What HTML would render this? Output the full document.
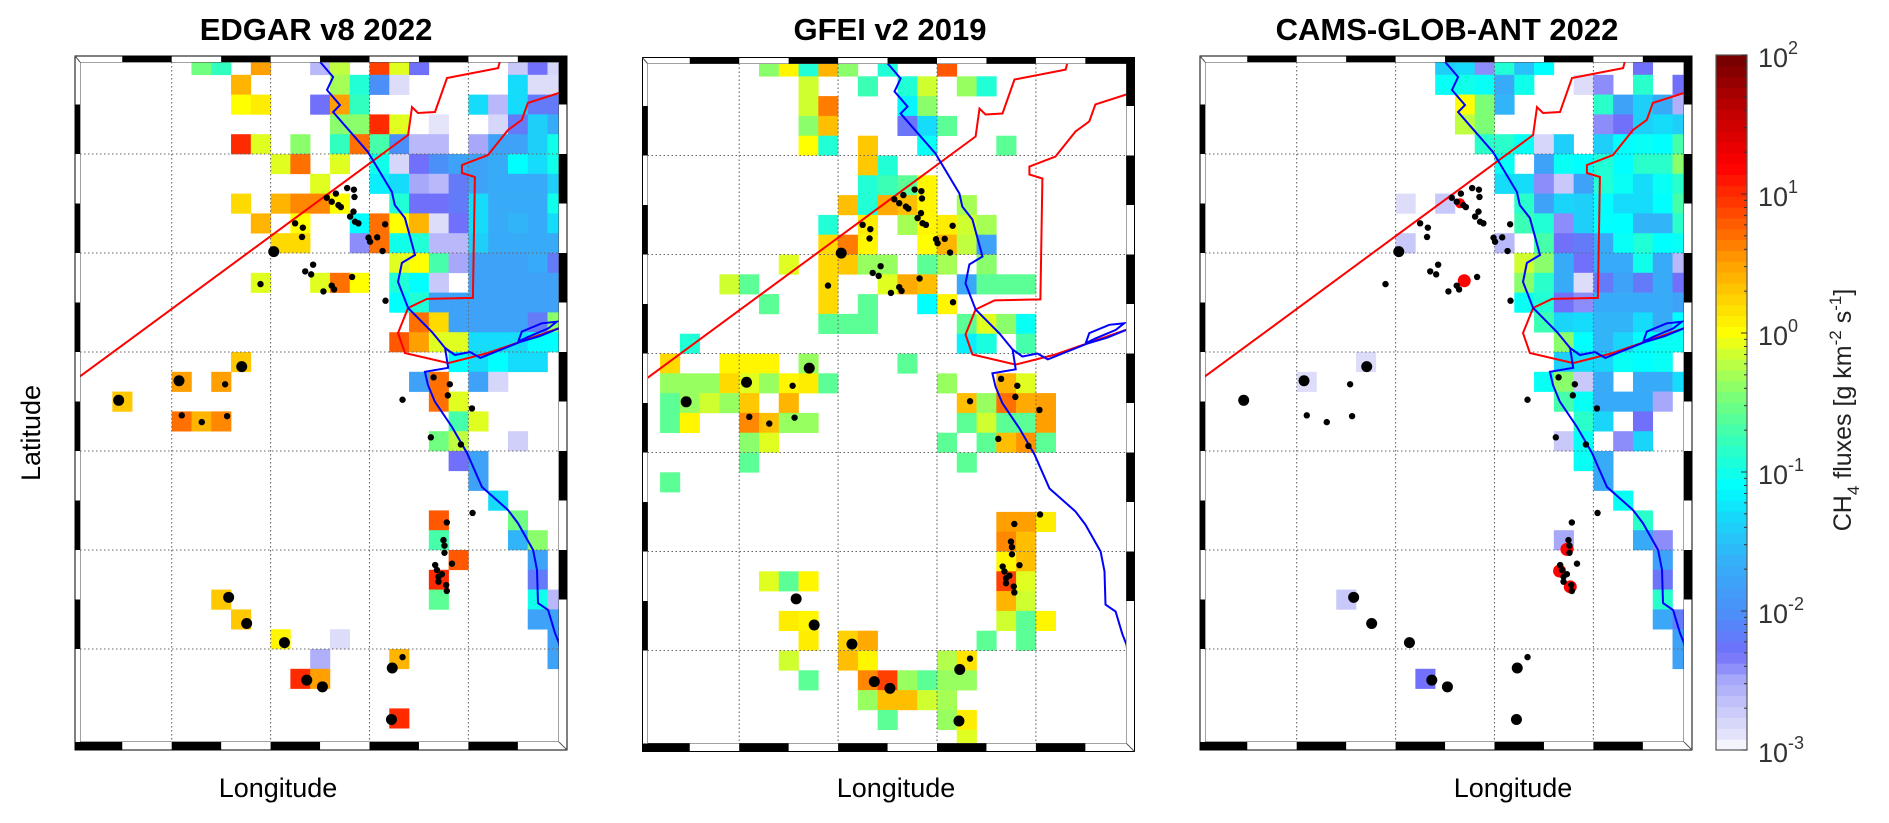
<!DOCTYPE html>
<html><head><meta charset="utf-8">
<style>
html,body{margin:0;padding:0;background:#fff;}
svg{display:block;font-family:"Liberation Sans",Arial,sans-serif;}
</style></head>
<body>
<svg id="chart" xmlns="http://www.w3.org/2000/svg" width="1889" height="823" viewBox="0 0 1889 823">
<rect x="0" y="0" width="1889" height="823" fill="#fff"/>
<text x="316" y="40" font-size="31" font-weight="bold" text-anchor="middle">EDGAR v8 2022</text>
<text x="890" y="40" font-size="31" font-weight="bold" text-anchor="middle">GFEI v2 2019</text>
<text x="1447" y="40" font-size="31" font-weight="bold" text-anchor="middle">CAMS-GLOB-ANT 2022</text>
<text x="278" y="797" font-size="27" text-anchor="middle">Longitude</text>
<text x="896" y="797" font-size="27" text-anchor="middle">Longitude</text>
<text x="1513" y="797" font-size="27" text-anchor="middle">Longitude</text>
<text transform="translate(40,433) rotate(-90)" font-size="27" text-anchor="middle">Latitude</text>
<text transform="translate(1851,410) rotate(-90)" font-size="25" text-anchor="middle" fill="#222">CH<tspan font-size="17" dy="8">4</tspan><tspan dy="-8"> fluxes [g km</tspan><tspan font-size="17" dy="-10">-2</tspan><tspan dy="10"> s</tspan><tspan font-size="17" dy="-10">-1</tspan><tspan dy="10">]</tspan></text>
</svg>
<script>
// ---- data (grid units: column, row, log10 flux) ----
const edgarCells = [
[1,-5,-.5],[2,-5,-.8],[4,-5,.5],[7,-5,-2.6],[8,-5,-.2],[10,-5,.9],[11,-5,-.1],[12,-5,-2.3],[17,-5,-2.7],[18,-5,-2.3],[19,-5,-2.8],
[3,-4,.4],[8,-4,-.3],[9,-4,-.9],[10,-4,-2],[11,-4,-2.85],[17,-4,-1.3],[18,-4,-2.85],[19,-4,-2.85],
[3,-3,0],[4,-3,.1],[7,-3,-2.3],[8,-3,.5],[9,-3,-.8],[15,-3,-1.3],[16,-3,-2.6],[17,-3,-1.3],[18,-3,-2.2],[19,-3,-2.2],
[8,-2,-.4],[9,-2,-.4],[10,-2,1],[11,-2,-.1],[13,-2,-2.9],[16,-2,-2.8],[17,-2,-2.2],[18,-2,-1.4],[19,-2,-1.7],
[3,-1,1],[4,-1,-.1],[6,-1,-.4],[8,-1,-.8],[9,-1,.7],[10,-1,-.7],[11,-1,-2],[12,-1,-2.6],[13,-1,-2.6],[15,-1,-2.5],[16,-1,-1.8],[17,-1,-1.8],[18,-1,-1.4],[19,-1,-1],
[5,0,-.1],[6,0,.7],[8,0,-.1],[10,0,-1],[11,0,-2.8],[12,0,-2.3],[13,0,-2],[14,0,-1.8],[15,0,-1.8],[16,0,-1.7],[17,0,-1.1],[18,0,-1.3],[19,0,-1],
[7,1,-.1],[10,1,-1.2],[11,1,-1.3],[12,1,-2.5],[13,1,-2.6],[14,1,-2.2],[15,1,-1.8],[16,1,-1.7],[17,1,-1.7],[18,1,-1.7],[19,1,-1.4],
[3,2,.2],[5,2,.4],[6,2,.6],[7,2,.6],[8,2,0],[11,2,-.9],[12,2,-2.3],[13,2,-2.3],[14,2,-2.2],[15,2,-1.3],[16,2,-1.7],[17,2,-1.7],[18,2,-1.7],[19,2,-1],
[4,3,.4],[6,3,0],[9,3,-1.1],[10,3,.7],[11,3,0],[12,3,.4],[13,3,-2.85],[14,3,-2.3],[15,3,-1.3],[16,3,-1.7],[17,3,-1.6],[18,3,-1.7],[19,3,-1.3],
[5,4,.2],[6,4,.2],[9,4,-2.4],[10,4,.7],[11,4,-1],[12,4,-.9],[13,4,-2.6],[14,4,-2.6],[15,4,-1.4],[16,4,-1.7],[17,4,-1.7],[18,4,-1.7],[19,4,-1.7],
[11,5,-.1],[12,5,0],[13,5,-.7],[14,5,-2.5],[15,5,-1.8],[16,5,-1.8],[17,5,-1.8],[18,5,-1.7],[19,5,-2.2],
[4,6,-.1],[7,6,-.1],[8,6,.7],[9,6,0],[11,6,-.9],[12,6,-1.1],[13,6,-2.7],[15,6,-1.8],[16,6,-1.8],[17,6,-1.8],[18,6,-1.8],[19,6,-1.8],
[11,7,-1.1],[12,7,-.9],[13,7,-1.8],[14,7,-1.8],[15,7,-1.8],[16,7,-1.8],[17,7,-1.8],[18,7,-1.8],[19,7,-1.8],
[12,8,.7],[13,8,.2],[14,8,-1.8],[15,8,-1.8],[16,8,-1.8],[17,8,-1.8],[18,8,-2.2],[19,8,-.4],
[11,9,.8],[12,9,.5],[13,9,-.1],[14,9,-.1],[15,9,-1.3],[16,9,-1.3],[17,9,-1.3],[18,9,-1.1],[19,9,-1.1],
[3,10,.3],[14,10,-1.1],[15,10,-1.3],[16,10,-1.1],[17,10,-1.3],[18,10,-1.3],
[0,11,.5],[2,11,.5],[12,11,-1.8],[13,11,.7],[15,11,-1.8],[16,11,-2.8],
[-3,12,.3],[13,12,.7],[14,12,-.1],
[0,13,.7],[1,13,.4],[2,13,.6],[14,13,-.7],[15,13,-.1],
[13,14,-.5],[14,14,-.2],[17,14,-2.75],
[14,15,-2.3],[15,15,-1.8],[15,16,-1.8],[16,17,-1.3],
[13,18,.8],[17,18,-.5],[13,19,-.7],[17,19,-1.6],[18,19,-.4],
[14,20,.8],[18,20,-1.8],[13,21,1],[18,21,-2.2],
[2,22,.3],[13,22,-.6],[18,22,-1],[19,22,-2.6],
[3,23,.3],[18,23,-1.8],[19,23,-1.8],
[5,24,.05],[8,24,-2.85],[19,24,-1.8],
[7,25,-2.55],[11,25,.4],[19,25,-1.8],
[6,26,1],[7,26,.5],[11,28,1]
];
const gfeiCells = [
[1,-5,-.4],[2,-5,.05],[3,-5,-.9],[4,-5,.4],[5,-5,-.4],[7,-5,-.9],[10,-5,.8],
[3,-4,-.15],[6,-4,-.75],[8,-4,-.9],[9,-4,-.15],[11,-4,-.35],[12,-4,-.9],
[3,-3,-.15],[4,-3,.65],[8,-3,-1.15],[9,-3,-.4],
[3,-2,-.4],[4,-2,.35],[8,-2,-2.25],[9,-2,-1.3],[10,-2,-.6],
[3,-1,0],[4,-1,-.9],[6,-1,.3],[9,-1,-1.05],[13,-1,-.6],
[6,0,.3],[7,0,-.9],
[6,1,-.9],[7,1,-.75],[8,1,-.6],[9,1,.05],
[5,2,.35],[6,2,-.9],[7,2,.45],[8,2,.35],[9,2,.05],[11,2,-.3],
[4,3,-.9],[6,3,.1],[8,3,-.3],[9,3,.05],[10,3,.1],[11,3,-.15],[12,3,-.3],
[4,4,.2],[5,4,.65],[6,4,.05],[9,4,0],[10,4,.4],[11,4,-.2],[12,4,-1.8],
[2,5,-.1],[4,5,.2],[5,5,.3],[6,5,-.35],[7,5,-.35],[9,5,-.6],[10,5,-.3],[12,5,-.4],
[-1,6,-.15],[0,6,-.6],[4,6,.2],[7,6,-.1],[8,6,.45],[9,6,.35],[11,6,-1.75],[12,6,-.6],[13,6,-.6],[14,6,-.6],
[1,7,-.6],[4,7,.2],[6,7,-.6],[9,7,-1.1],[10,7,.05],
[4,8,-.6],[5,8,-.6],[6,8,-.6],[11,8,-.6],[12,8,-.1],[13,8,-.4],[14,8,-1.05],
[-3,9,-.9],[11,9,-1.2],[12,9,-.95],[14,9,-.7],
[-4,10,.2],[-1,10,.05],[0,10,.05],[1,10,.05],[3,10,-.35],[8,10,-.6],
[-4,11,-.35],[-3,11,-.35],[-2,11,-.35],[-1,11,.2],[0,11,-.1],[1,11,-.35],[2,11,.05],[3,11,.1],[4,11,-.6],[10,11,-.35],[13,11,.4],[14,11,-.1],
[-4,12,-.6],[-3,12,-.35],[-2,12,-.15],[-1,12,-.35],[0,12,.3],[2,12,.4],[11,12,.35],[12,12,-.35],[13,12,.7],[14,12,.45],[15,12,.5],
[-4,13,-.6],[-3,13,.05],[0,13,.6],[1,13,.35],[2,13,-.35],[3,13,-.35],[11,13,-.6],[12,13,-.15],[13,13,-.6],[14,13,-.6],[15,13,.5],
[0,14,-.4],[1,14,-.1],[10,14,-.6],[12,14,-.6],[13,14,.35],[14,14,.55],[15,14,-.6],
[0,15,-.6],[11,15,-.6],[-4,16,-.6],
[13,18,.5],[14,18,.5],[15,18,.1],[13,19,.6],[14,19,.35],[13,20,.05],[14,20,.35],
[1,21,-.1],[2,21,-.6],[3,21,.05],[13,21,.9],[14,21,-.1],
[13,22,.4],[14,22,-.15],
[2,23,.1],[3,23,.05],[13,23,-.15],[14,23,-.6],[15,23,.05],
[3,24,.1],[5,24,.25],[6,24,.45],[12,24,-.6],[14,24,-.6],
[2,25,-.15],[5,25,.35],[6,25,.05],[10,25,-.25],[11,25,.15],
[3,26,-.6],[6,26,.6],[7,26,.9],[8,26,-.35],[9,26,-.6],[10,26,-.35],[11,26,-.35],
[6,27,-.35],[7,27,.35],[8,27,.35],[9,27,-.15],[10,27,-.3],
[7,28,-.6],[10,28,-.35],[11,28,.1],[11,29,-.1]
];
const camsCells = [
[7,-5,-1.4],[8,-5,-1.3],[9,-5,-2.4],[10,-5,-.9],[11,-5,-1.5],[12,-5,-1.1],[17,-5,-2.3],
[7,-4,-1.05],[8,-4,-1],[9,-4,-1.05],[10,-4,-1.7],[11,-4,-1],[14,-4,-2.85],[15,-4,-2.4],[17,-4,-.85],[19,-4,-2.3],
[8,-3,0],[9,-3,-.45],[10,-3,-1.6],[15,-3,-.85],[16,-3,-1.8],[17,-3,-1.4],[18,-3,-1.7],[19,-3,-2.55],
[8,-2,-.2],[9,-2,-.45],[15,-2,-2.4],[16,-2,-2.3],[17,-2,-1.4],[18,-2,-1.3],[19,-2,-1.4],
[9,-1,-.85],[10,-1,-.85],[11,-1,-1.05],[12,-1,-2.8],[13,-1,-1.4],[15,-1,-1.4],[16,-1,-1.1],[17,-1,-1.05],[18,-1,-1.1],[19,-1,-.7],
[10,0,-1.05],[12,0,-1.8],[13,0,-1.05],[14,0,-1.1],[15,0,-.9],[16,0,-1.1],[17,0,-.85],[18,0,-.85],[19,0,-.4],
[10,1,-1.3],[11,1,-1.3],[12,1,-2.4],[13,1,-2.7],[14,1,-1.8],[15,1,-.9],[16,1,-1.05],[17,1,-1.3],[18,1,-1.05],[19,1,-.85],
[5,2,-2.85],[7,2,-2.7],[11,2,-.85],[12,2,-1.8],[13,2,-1.35],[14,2,-1.4],[15,2,-1.1],[16,2,-1.3],[17,2,-1.3],[18,2,-1.1],[19,2,-.7],
[11,3,-.75],[12,3,-.9],[13,3,-2.4],[14,3,-1.4],[15,3,-1.1],[16,3,-1.1],[17,3,-1.6],[18,3,-1.6],[19,3,-.85],
[5,4,-2.7],[10,4,-2.6],[12,4,-.7],[13,4,-2.3],[14,4,-2.2],[15,4,-1.7],[16,4,-1.05],[17,4,-.9],[18,4,-1.1],[19,4,-1.05],
[11,5,-.15],[12,5,-.4],[13,5,-1.7],[14,5,-2.3],[15,5,-1.7],[16,5,-1.7],[17,5,-1],[18,5,-1.7],[19,5,-2.6],
[11,6,-.4],[12,6,-.85],[13,6,-1.7],[14,6,-2.85],[15,6,-2.2],[16,6,-1.8],[17,6,-2.2],[18,6,-1.7],[19,6,-2.3],
[11,7,-1.05],[12,7,-.9],[13,7,-2.3],[14,7,-2.4],[15,7,-1.7],[16,7,-1.7],[17,7,-1.7],[18,7,-1.7],[19,7,-1.8],
[12,8,-.75],[13,8,-1.35],[14,8,-1.3],[15,8,-1.6],[16,8,-1.6],[17,8,-1.3],[18,8,-1.7],[19,8,-1.1],
[13,9,-.4],[14,9,-1.1],[15,9,-1.6],[16,9,-1.35],[17,9,-1.1],[18,9,-1.05],[19,9,-1.05],
[3,10,-2.85],[13,10,-1.4],[14,10,-1.3],[15,10,-1.35],[16,10,-1.05],[17,10,-1.1],[18,10,-1.05],
[0,11,-2.85],[12,11,-1.05],[13,11,-.4],[14,11,-2.7],[15,11,-1.7],[17,11,-1.7],[18,11,-1.7],[19,11,-1.3],
[13,12,-.7],[14,12,-1.05],[15,12,-1.7],[16,12,-1.7],[17,12,-1.7],[18,12,-2.5],
[14,13,-.85],[15,13,-1.35],[17,13,-2.3],
[13,14,-2.7],[14,14,-1.05],[16,14,-2.4],[17,14,-1.35],
[14,15,-1.05],[15,15,-1.7],[15,16,-1.7],[16,17,-1.05],[17,18,-.85],
[13,19,-2.5],[17,19,-1.7],[18,19,-2.4],[18,20,-1.8],[18,21,-2.25],
[2,22,-2.7],[18,22,-.85],[18,23,-1.75],[19,23,-2.2],[19,24,-1.8],[19,25,-1.8],[6,26,-2.3]
];
// facility locations (grid units) and marker class (1 = large)
const dotX = [8.87,9.21,9.24,8.30,7.84,8.09,8.43,8.55,9.19,9.02,9.27,9.44,6.24,6.63,6.59,9.95,10.39,10.03,10.79,10.66,5.16,7.15,6.75,7.05,4.49,8.09,8.21,7.67,9.12,10.81,3.54,0.37,2.70,-2.68,13.24,14.06,13.96,11.67,
0.51,1.52,2.80,15.18,13.10,14.62,15.21,13.91,13.74,13.79,13.79,13.32,13.41,13.66,13.49,13.49,13.88,13.91,14.17,2.88,3.79,5.70,6.83,7.62,11.67,11.15,11.11];
const dotY = [1.72,1.80,2.17,2.00,2.21,2.41,2.58,2.68,2.91,3.16,3.42,3.50,3.50,3.72,4.19,4.23,4.21,4.43,3.55,4.90,4.93,5.59,5.93,6.08,6.57,6.65,6.84,6.94,6.21,7.41,10.74,11.45,11.63,12.44,11.28,11.63,12.19,12.41,
13.20,13.54,13.24,12.85,14.31,14.67,18.13,18.61,19.50,19.78,20.14,20.76,21.01,21.22,21.35,21.60,21.77,22.07,20.69,22.39,23.71,24.68,26.57,26.91,25.41,25.96,28.56];
const dotBig = [0,0,0,0,0,0,0,0,0,0,0,0,0,0,0,0,0,0,0,0,1,0,0,0,0,0,0,0,0,0,1,1,0,1,0,0,0,0,
0,0,0,0,0,0,0,0,0,0,0,0,0,0,0,0,0,0,0,1,1,1,1,1,0,1,1];
const redX = [8.47,8.26,13.66,13.29,13.83];
const redY = [6.40,2.49,19.97,21.06,21.86];
const redR = [6.5,5,6.5,6.5,6.5];
// geography (grid units)
const coastX = [7.5,8.16,7.85,8.51,8.16,9.92,11.13,11.28,11.79,12.3,11.64,11.44,11.95,13.16,13.82,13.98,12.8,12.96,13.3,14.17,14.93,15.69,17.0,17.5,18.27,18.47,18.52,19.03,19.38,19.58,19.7];
const coastY = [-4.65,-3.89,-3.23,-2.47,-2.12,-0.1,1.92,2.58,3.23,5.1,5.5,6.46,7.78,8.99,9.8,10.8,11.0,11.67,12.5,13.79,15.1,16.82,17.98,18.64,20.0,21.0,22.68,23.03,24.19,24.7,25.6];
const coast2X = [13.82,14.32,15.08,15.6,16.6,17.6,18.6,19.7];
const coast2Y = [9.8,10.15,10.0,10.3,9.9,9.5,9.2,8.75];
const islandX = [17.52,17.7,18.71,19.47,19.04,18.03,17.52];
const islandY = [9.48,8.97,8.55,8.47,8.81,9.23,9.48];
const border1X = [-5,11.95,12.15,12.45,13.31,13.92,16.5,16.6];
const border1Y = [11.5,-0.96,-2.37,-2.07,-2.12,-3.84,-4.34,-4.7];
const border2X = [19.7,18.01,17.7,17.0,15.99,14.67,14.67,15.33,15.23,12.91,11.95,11.44,11.79,13.98,15.99,19.7];
const border2Y = [-3.12,-2.58,-1.72,-1.21,0.05,0.56,0.96,1.16,7.27,7.32,7.78,9.04,10.05,10.56,10.05,8.75];
const cbTicks = [-3,-2,-1,0,1,2];
const cbTickLabels = ["-3","-2","-1","0","1","2"];

// ---- scales ----
const CW = 19.78, CH = 19.8;
const panels = [
 {name:'edgar', gx:171.7, gy:154, cells:edgarCells},
 {name:'gfei', gx:739.2, gy:155.5, cells:gfeiCells},
 {name:'cams', gx:1296.7, gy:154, cells:camsCells}
];
const stops = [[-3,[255,255,255]],[-2.9,[228,228,250]],[-2.7,[200,200,250]],[-2.5,[168,168,250]],[-2.3,[112,112,250]],[-2.0,[74,144,248]],[-1.6,[50,180,248]],[-1.3,[20,220,250]],[-1.1,[0,255,255]],[-0.8,[48,255,192]],[-0.5,[112,255,128]],[-0.2,[192,255,64]],[0,[255,255,0]],[0.3,[255,200,0]],[0.5,[255,160,0]],[0.7,[255,112,0]],[0.9,[255,64,0]],[1.2,[255,0,0]],[1.6,[192,0,0]],[2,[112,0,0]]];
function cmap(v){
  if(v<=stops[0][0]) return 'rgb(255,255,255)';
  for(let i=1;i<stops.length;i++){
    if(v<=stops[i][0]){const a=stops[i-1],b=stops[i];const t=(v-a[0])/(b[0]-a[0]);
      const c=a[1].map((x,k)=>Math.round(x+(b[1][k]-x)*t));return 'rgb('+c.join(',')+')';}
  }
  return 'rgb(112,0,0)';
}
const NS='http://www.w3.org/2000/svg';
const svg=document.getElementById('chart');
function mk(tag,attrs,parent){const e=document.createElementNS(NS,tag);for(const k in attrs)e.setAttribute(k,attrs[k]);(parent||svg).appendChild(e);return e;}
const defs=mk('defs',{});

panels.forEach((p,pi)=>{
  const sx=c=>p.gx+c*CW, sy=r=>p.gy+r*CH;
  const L=p.gx-91.7, R=p.gx+387.3, T=p.gy-92, B=p.gy+588;
  const cp=mk('clipPath',{id:'clip'+pi},defs);
  mk('rect',{x:L,y:T,width:R-L,height:B-T},cp);
  const fr=mk('g',{});
  
  
  mk('rect',{x:L-5,y:T-6,width:R-L+13,height:B-T+14,fill:'#fff',stroke:'#000','stroke-width':1},fr);
  for(let k=-3;k<10;k++){
    const x0=Math.max(L-5,p.gx+k*49.45), x1=Math.min(R+8,p.gx+(k+1)*49.45);
    if(x1>x0){
      if(Math.abs(k)%2===1) mk('rect',{x:x0,y:T-6,width:x1-x0,height:6,fill:'#000'},fr);
      else mk('rect',{x:x0,y:B,width:x1-x0,height:8,fill:'#000'},fr);
    }
    const y0=Math.max(T-6,p.gy+k*49.5), y1=Math.min(B+8,p.gy+(k+1)*49.5);
    if(y1>y0){
      if(Math.abs(k)%2===1) mk('rect',{x:L-5,y:y0,width:5,height:y1-y0,fill:'#000'},fr);
      else mk('rect',{x:R,y:y0,width:8,height:y1-y0,fill:'#000'},fr);
    }
  }
  mk('line',{x1:R,y1:B,x2:R+8,y2:B+8,stroke:'#555','stroke-width':1},fr);
  mk('line',{x1:L,y1:T,x2:L-5,y2:T-6,stroke:'#555','stroke-width':1},fr);
  const g=mk('g',{'clip-path':'url(#clip'+pi+')'});
  mk('rect',{x:L,y:T,width:R-L,height:B-T,fill:'#fff'},g);
  p.cells.forEach(c=>{
    const r=mk('rect',{x:sx(c[0]),y:sy(c[1]),width:CW+0.3,height:CH+0.3,fill:cmap(c[2])},g);
    
    
  });
  for(let c=0;c<=15;c+=5){
    const l=mk('line',{x1:sx(c),y1:T,x2:sx(c),y2:B,stroke:'#666','stroke-width':1.1,'stroke-dasharray':'1.5,2.5'},g);
    
    
  }
  for(let r=0;r<=25;r+=5){
    const l=mk('line',{x1:L,y1:sy(r),x2:R,y2:sy(r),stroke:'#666','stroke-width':1.1,'stroke-dasharray':'1.5,2.5'},g);
    
    
  }
  const poly=(xs,ys,col,nm)=>{
    const pts=xs.map((x,i)=>sx(x).toFixed(1)+','+sy(ys[i]).toFixed(1)).join(' ');
    const e=mk('polyline',{points:pts,fill:'none',stroke:col,'stroke-width':2},g);
    
    
  };
  poly(border1X,border1Y,'#ff0000','country-border');
  poly(border2X,border2Y,'#ff0000','country-border');
  poly(coastX,coastY,'#0000ff','coastline');
  poly(coast2X,coast2Y,'#0000ff','coastline');
  poly(islandX,islandY,'#0000ff','coastline');
  if(p.name==='cams'){
    redX.forEach((x,i)=>{
      const e=mk('circle',{cx:sx(x),cy:sy(redY[i]),r:redR[i],fill:'#ff0000'},g);
      
      
    });
  }
  dotX.forEach((x,i)=>{
    const e=mk('circle',{cx:sx(x),cy:sy(dotY[i]),r:dotBig[i]?5.5:3.2,fill:'#000'},g);
    
    
  });
  mk('rect',{x:L,y:T,width:R-L,height:B-T,fill:'none',stroke:'#444','stroke-width':1},g);
});

// ---- colorbar ----
const cbX=1716, cbW=31, cbT=55, cbB=750;
const cy=v=>cbB-(v+3)/5*(cbB-cbT);
const cb=mk('g',{});


const N=64;
for(let i=0;i<N;i++){
  const v0=-3+5*i/N, v1=-3+5*(i+1)/N;
  mk('rect',{x:cbX,y:cy(v1),width:cbW,height:cy(v0)-cy(v1)+0.5,fill:cmap((v0+v1)/2)},cb);
}
mk('rect',{x:cbX,y:cbT,width:cbW,height:cbB-cbT,fill:'none',stroke:'#555','stroke-width':1.2},cb);
for(let d=-3;d<2;d++){
  for(let m=2;m<=9;m++){
    const y=cy(d+Math.log10(m));
    mk('line',{x1:cbX+cbW-3,y1:y,x2:cbX+cbW,y2:y,stroke:'#333','stroke-width':1},cb);
  }
}
cbTicks.forEach((t,i)=>{
  const y=cy(t);
  mk('line',{x1:cbX+cbW-6,y1:y,x2:cbX+cbW,y2:y,stroke:'#333','stroke-width':1},cb);
  const tx=mk('text',{x:1758,y:y+12,'font-size':27,fill:'#333'},cb);
  
  
  tx.textContent='10';
  const sp=mk('tspan',{dy:-13,'font-size':18},tx);
  sp.textContent=cbTickLabels[i];
});
</script>
</body></html>
